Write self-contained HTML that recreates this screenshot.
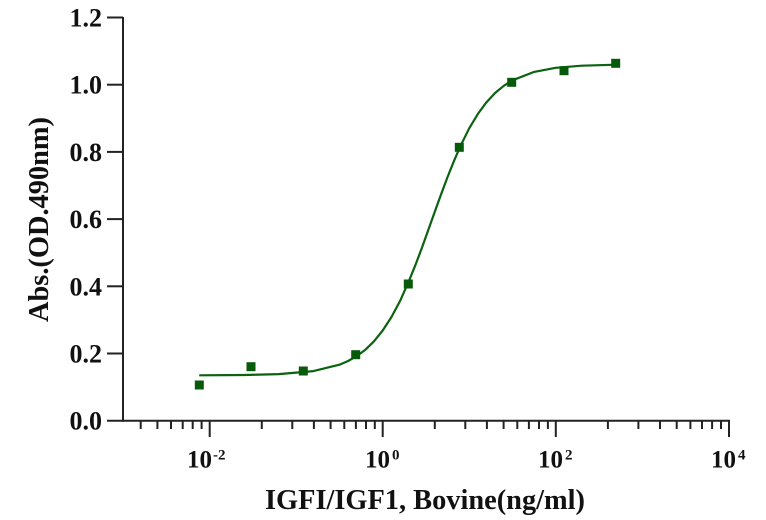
<!DOCTYPE html>
<html><head><meta charset="utf-8"><style>
html,body{margin:0;padding:0;background:#fff;}
svg{display:block;}
text{font-family:"Liberation Serif",serif;font-weight:bold;fill:#111;}
</style></head><body>
<svg width="766" height="520" viewBox="0 0 766 520" xmlns="http://www.w3.org/2000/svg">
<g stroke="#222" stroke-width="2" fill="none" stroke-linecap="butt">
<line x1="123" y1="17" x2="123" y2="421.7"/>
<line x1="107" y1="17.5" x2="123" y2="17.5"/>
<line x1="107" y1="84.7" x2="123" y2="84.7"/>
<line x1="107" y1="151.9" x2="123" y2="151.9"/>
<line x1="107" y1="219.1" x2="123" y2="219.1"/>
<line x1="107" y1="286.3" x2="123" y2="286.3"/>
<line x1="107" y1="353.5" x2="123" y2="353.5"/>
<line x1="107" y1="420.7" x2="730" y2="420.7"/>
<line x1="209.7" y1="420" x2="209.7" y2="437"/>
<line x1="382.7" y1="420" x2="382.7" y2="437"/>
<line x1="555.8" y1="420" x2="555.8" y2="437"/>
<line x1="729" y1="420" x2="729" y2="437"/>
<path d="M140.7 420V429M157.4 420V429M171 420V429M182.7 420V429M192.7 420V429M201.6 420V429
M261.8 420V429M292.3 420V429M313.9 420V429M330.6 420V429M344.3 420V429M355.9 420V429M366 420V429M374.8 420V429
M434.8 420V429M465.3 420V429M486.9 420V429M503.6 420V429M517.3 420V429M528.9 420V429M539 420V429M547.9 420V429
M607.9 420V429M638.4 420V429M660 420V429M676.7 420V429M690.4 420V429M702 420V429M712.1 420V429M721 420V429"/>
</g>
<g font-size="26" text-anchor="end">
<text x="102" y="26.5">1.2</text>
<text x="102" y="93.7">1.0</text>
<text x="102" y="160.9">0.8</text>
<text x="102" y="228.1">0.6</text>
<text x="102" y="295.3">0.4</text>
<text x="102" y="362.5">0.2</text>
<text x="102" y="429.7">0.0</text>
</g>
<g font-size="25">
<text x="187" y="467.7">10<tspan font-size="15" dx="1" dy="-8">-2</tspan></text>
<text x="365" y="467.7">10<tspan font-size="15" dx="2" dy="-8">0</tspan></text>
<text x="538" y="467.7">10<tspan font-size="15" dx="2" dy="-8">2</tspan></text>
<text x="711" y="467.7">10<tspan font-size="15" dx="2" dy="-8">4</tspan></text>
</g>
<text x="265" y="509" font-size="28" textLength="320" lengthAdjust="spacingAndGlyphs">IGFI/IGF1, Bovine(ng/ml)</text>
<text transform="translate(48,219.5) rotate(-90)" text-anchor="middle" font-size="28" textLength="205" lengthAdjust="spacingAndGlyphs">Abs.(OD.490nm)</text>
<polyline fill="none" stroke="#0b620f" stroke-width="2.2" stroke-linejoin="round" points="199.2,375.3 244.2,375.0 278.8,374.1 313.4,371.1 339.4,364.7 348.1,361.0 356.7,356.1 365.4,349.7 374.0,341.3 382.7,330.5 391.4,317.1 400.1,300.9 408.7,281.6 415.2,265.6 421.7,248.4 428.1,230.5 434.6,212.3 441.1,194.2 447.6,176.9 454.1,160.7 460.6,145.7 469.2,128.3 477.9,113.9 486.5,102.2 495.2,92.9 503.8,85.8 512.5,80.3 534.1,71.9 555.7,67.8 581.7,65.7 616.3,64.7"/>
<g fill="#075a0a">
<rect x="194.8" y="380.5" width="9" height="9"/>
<rect x="246.5" y="362.2" width="9" height="9"/>
<rect x="298.8" y="366.5" width="9" height="9"/>
<rect x="351.2" y="350.2" width="9" height="9"/>
<rect x="403.8" y="279.5" width="9" height="9"/>
<rect x="454.8" y="142.8" width="9" height="9"/>
<rect x="507.2" y="77.8" width="9" height="9"/>
<rect x="559.5" y="66.2" width="9" height="9"/>
<rect x="611.2" y="58.8" width="9" height="9"/>
</g>
</svg>
</body></html>
